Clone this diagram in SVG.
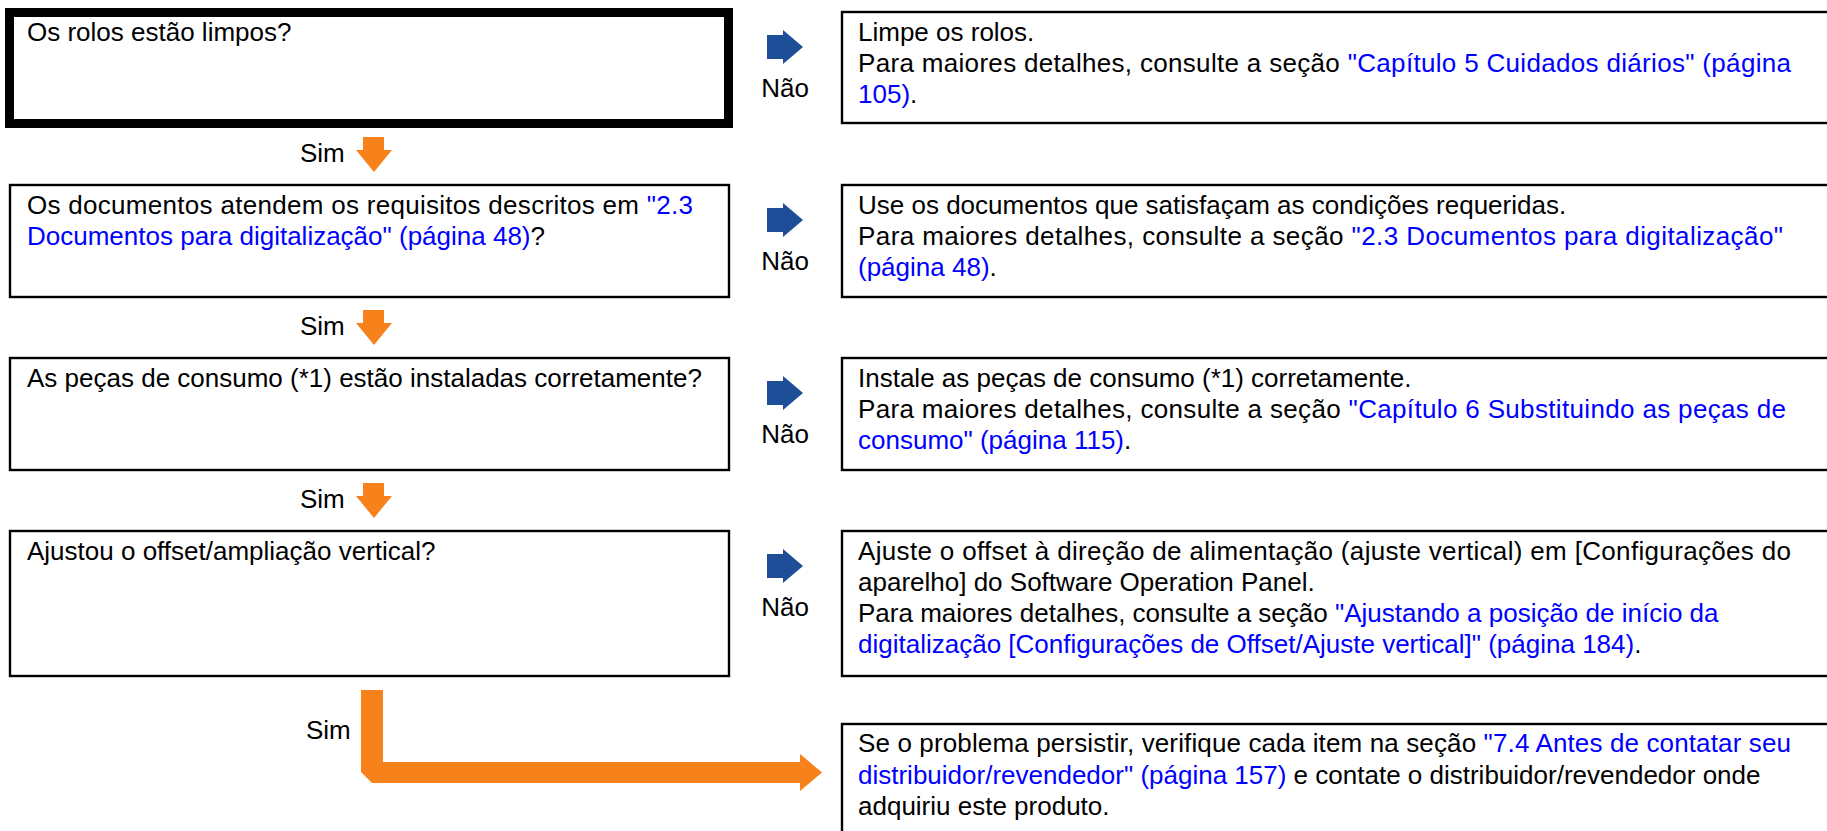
<svg xmlns="http://www.w3.org/2000/svg" width="1827" height="831" viewBox="0 0 1827 831">
<style>
.t{font-family:"Liberation Sans",Arial,sans-serif;font-size:26px;fill:#000}
.l{fill:#0000FF}
.box{fill:#fff;stroke:#000;stroke-width:2.4}
.hl{fill:#fff;stroke:#000;stroke-width:9}
.no{fill:#1F4E99}
.yes{fill:#F7821B}
</style>
<defs>
<path id="na" d="M0,-12 H16 V-17 L36,0 L16,17 V12 H0 Z"/>
<path id="ya" d="M7,0 H28 V13 H36 L18,35 L0,13 H7 Z"/>
</defs>
<rect width="1827" height="831" fill="#fff"/>

<g id="connectors">
<use href="#na" class="no" x="767" y="47"/>
<use href="#na" class="no" x="767" y="220"/>
<use href="#na" class="no" x="767" y="393"/>
<use href="#na" class="no" x="767" y="566"/>
<text class="t" x="785" y="97" text-anchor="middle">Não</text>
<text class="t" x="785" y="270" text-anchor="middle">Não</text>
<text class="t" x="785" y="443" text-anchor="middle">Não</text>
<text class="t" x="785" y="616" text-anchor="middle">Não</text>
<use href="#ya" class="yes" x="356" y="137"/>
<use href="#ya" class="yes" x="356" y="310"/>
<use href="#ya" class="yes" x="356" y="483"/>
<text class="t" x="300" y="162">Sim</text>
<text class="t" x="300" y="335">Sim</text>
<text class="t" x="300" y="508">Sim</text>
<path class="yes" d="M361,690 H383 V762 H800 V754 L822,772.5 L800,791 V783 H372 L361,772 Z"/>
<text class="t" x="306" y="739">Sim</text>
</g>

<g id="q1">
<rect class="hl" x="9.5" y="12.5" width="719" height="111"/>
<text class="t" x="27" y="41">Os rolos estão limpos?</text>
</g>
<g id="a1">
<rect class="box" x="842" y="12" width="1000" height="111"/>
<text class="t" x="858" y="41">Limpe os rolos.</text>
<text class="t" x="858" y="72" textLength="933" lengthAdjust="spacing">Para maiores detalhes, consulte a seção <tspan class="l">"Capítulo 5 Cuidados diários" (página</tspan></text>
<text class="t" x="858" y="103"><tspan class="l">105)</tspan>.</text>
</g>

<g id="q2">
<rect class="box" x="10" y="185" width="719" height="112"/>
<text class="t" x="27" y="214" textLength="666" lengthAdjust="spacing">Os documentos atendem os requisitos descritos em <tspan class="l">"2.3</tspan></text>
<text class="t" x="27" y="245"><tspan class="l">Documentos para digitalização" (página 48)</tspan>?</text>
</g>
<g id="a2">
<rect class="box" x="842" y="185" width="1000" height="112"/>
<text class="t" x="858" y="214">Use os documentos que satisfaçam as condições requeridas.</text>
<text class="t" x="858" y="245" textLength="925" lengthAdjust="spacing">Para maiores detalhes, consulte a seção <tspan class="l">"2.3 Documentos para digitalização"</tspan></text>
<text class="t" x="858" y="276"><tspan class="l">(página 48)</tspan>.</text>
</g>

<g id="q3">
<rect class="box" x="10" y="358" width="719" height="112"/>
<text class="t" x="27" y="387">As peças de consumo (*1) estão instaladas corretamente?</text>
</g>
<g id="a3">
<rect class="box" x="842" y="358" width="1000" height="112"/>
<text class="t" x="858" y="387">Instale as peças de consumo (*1) corretamente.</text>
<text class="t" x="858" y="418" textLength="928" lengthAdjust="spacing">Para maiores detalhes, consulte a seção <tspan class="l">"Capítulo 6 Substituindo as peças de</tspan></text>
<text class="t" x="858" y="449"><tspan class="l">consumo" (página 115)</tspan>.</text>
</g>

<g id="q4">
<rect class="box" x="10" y="531" width="719" height="145"/>
<text class="t" x="27" y="560">Ajustou o offset/ampliação vertical?</text>
</g>
<g id="a4">
<rect class="box" x="842" y="531" width="1000" height="145"/>
<text class="t" x="858" y="560" textLength="933" lengthAdjust="spacing">Ajuste o offset à direção de alimentação (ajuste vertical) em [Configurações do</text>
<text class="t" x="858" y="591">aparelho] do Software Operation Panel.</text>
<text class="t" x="858" y="622">Para maiores detalhes, consulte a seção <tspan class="l">"Ajustando a posição de início da</tspan></text>
<text class="t" x="858" y="653"><tspan class="l">digitalização [Configurações de Offset/Ajuste vertical]" (página 184)</tspan>.</text>
</g>

<g id="a5">
<rect class="box" x="842" y="724" width="1000" height="120"/>
<text class="t" x="858" y="752" textLength="933" lengthAdjust="spacing">Se o problema persistir, verifique cada item na seção <tspan class="l">"7.4 Antes de contatar seu</tspan></text>
<text class="t" x="858" y="784"><tspan class="l">distribuidor/revendedor" (página 157)</tspan> e contate o distribuidor/revendedor onde</text>
<text class="t" x="858" y="815">adquiriu este produto.</text>
</g>
</svg>
